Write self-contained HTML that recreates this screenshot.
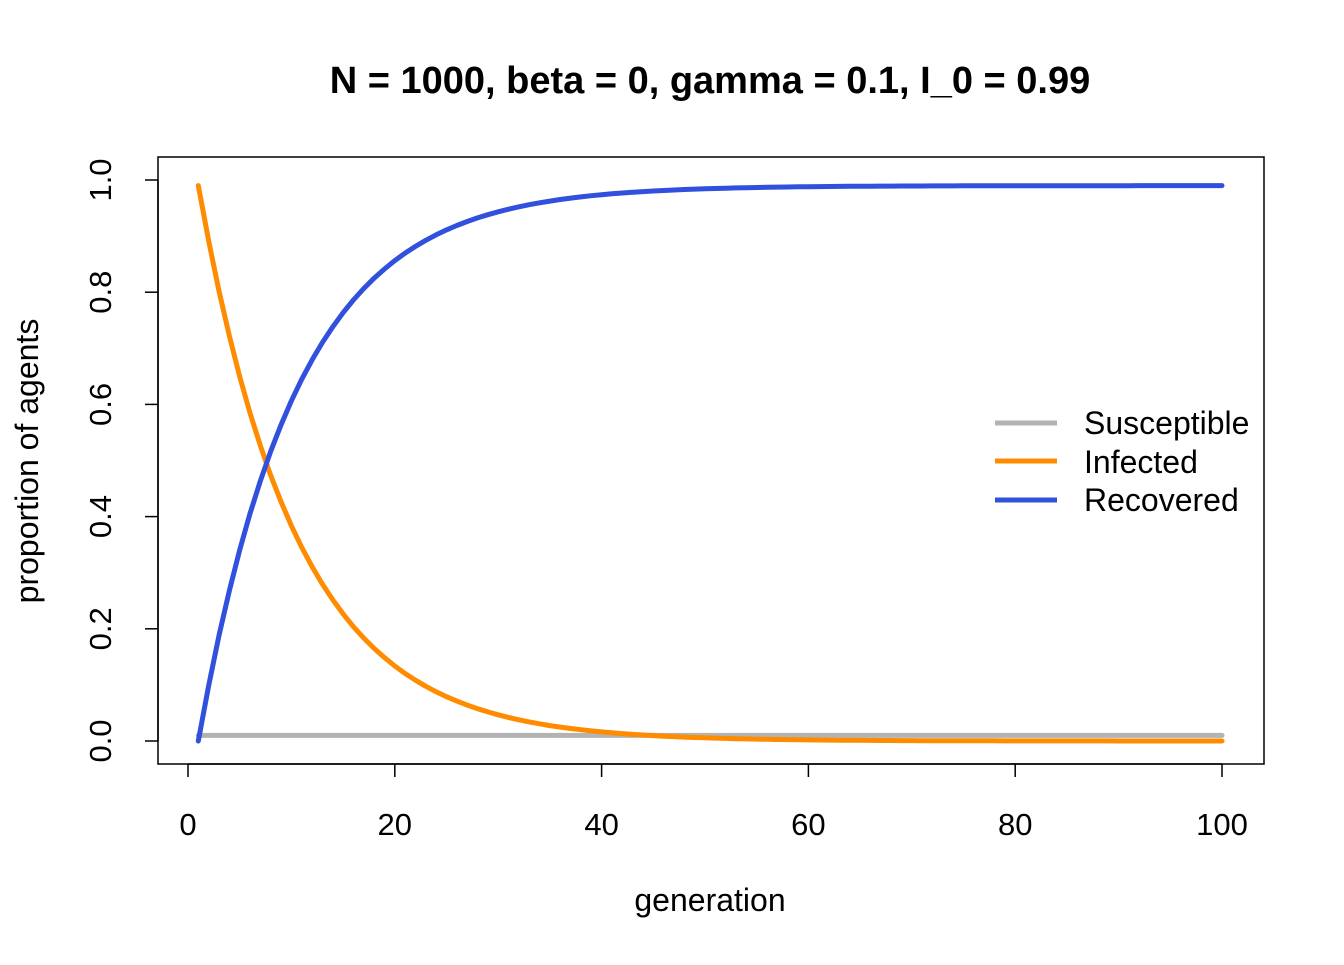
<!DOCTYPE html>
<html><head><meta charset="utf-8"><style>
html,body{margin:0;padding:0;background:#fff}
svg text{font-family:"Liberation Sans",Arial,sans-serif;fill:#000}
</style></head><body>
<svg id="s" width="1344" height="960" xmlns="http://www.w3.org/2000/svg">
<text x="710" y="93" text-anchor="middle" font-size="38" font-weight="bold">N = 1000, beta = 0, gamma = 0.1, I_0 = 0.99</text>
<rect x="158" y="157" width="1106" height="607" fill="none" stroke="#000" stroke-width="1.5"/>
<g stroke="#000" stroke-width="1.5">
<line x1="188" y1="764" x2="1222" y2="764"/>
<line x1="188" y1="764" x2="188" y2="777"/>
<line x1="394.8" y1="764" x2="394.8" y2="777"/>
<line x1="601.6" y1="764" x2="601.6" y2="777"/>
<line x1="808.4" y1="764" x2="808.4" y2="777"/>
<line x1="1015.2" y1="764" x2="1015.2" y2="777"/>
<line x1="1222" y1="764" x2="1222" y2="777"/>
<line x1="158" y1="180" x2="158" y2="741"/>
<line x1="145" y1="180" x2="158" y2="180"/>
<line x1="145" y1="292.2" x2="158" y2="292.2"/>
<line x1="145" y1="404.4" x2="158" y2="404.4"/>
<line x1="145" y1="516.6" x2="158" y2="516.6"/>
<line x1="145" y1="628.8" x2="158" y2="628.8"/>
<line x1="145" y1="741" x2="158" y2="741"/>
</g>
<g font-size="31" text-anchor="middle">
<text x="188" y="835">0</text><text x="394.8" y="835">20</text><text x="601.6" y="835">40</text>
<text x="808.4" y="835">60</text><text x="1015.2" y="835">80</text><text x="1222" y="835">100</text>
<text transform="translate(111,741) rotate(-90)">0.0</text>
<text transform="translate(111,628.8) rotate(-90)">0.2</text>
<text transform="translate(111,516.6) rotate(-90)">0.4</text>
<text transform="translate(111,404.4) rotate(-90)">0.6</text>
<text transform="translate(111,292.2) rotate(-90)">0.8</text>
<text transform="translate(111,180) rotate(-90)">1.0</text>
</g>
<g font-size="32" text-anchor="middle">
<text x="710" y="911">generation</text>
<text transform="translate(38,461) rotate(-90)">proportion of agents</text>
</g>
<g id="lines" fill="none" stroke-width="5" stroke-linejoin="round" stroke-linecap="round"></g>
<g stroke-width="5">
<line x1="995" y1="423" x2="1057" y2="423" stroke="#b3b3b3"/>
<line x1="995" y1="461" x2="1057" y2="461" stroke="#ff8c00"/>
<line x1="995" y1="500" x2="1057" y2="500" stroke="#3050dd"/>
</g>
<g font-size="32">
<text x="1084" y="434">Susceptible</text>
<text x="1084" y="473">Infected</text>
<text x="1084" y="511">Recovered</text>
</g>
</svg>
<script>
var X=function(t){return 188+t*10.34},Y=function(v){return 741-v*561};
var s="",i="",r="";
for(var t=1;t<=100;t++){var I=0.99*Math.pow(0.9,t-1),R=0.99-I;var c=t==1?"M":"L";
s+=c+X(t).toFixed(1)+","+Y(0.01).toFixed(1);i+=c+X(t).toFixed(1)+","+Y(I).toFixed(1);r+=c+X(t).toFixed(1)+","+Y(R).toFixed(1);}
var g=document.getElementById("lines");
g.innerHTML='<path d="'+s+'" stroke="#b3b3b3"/><path d="'+i+'" stroke="#ff8c00"/><path d="'+r+'" stroke="#3050dd"/>';
</script>
</body></html>
